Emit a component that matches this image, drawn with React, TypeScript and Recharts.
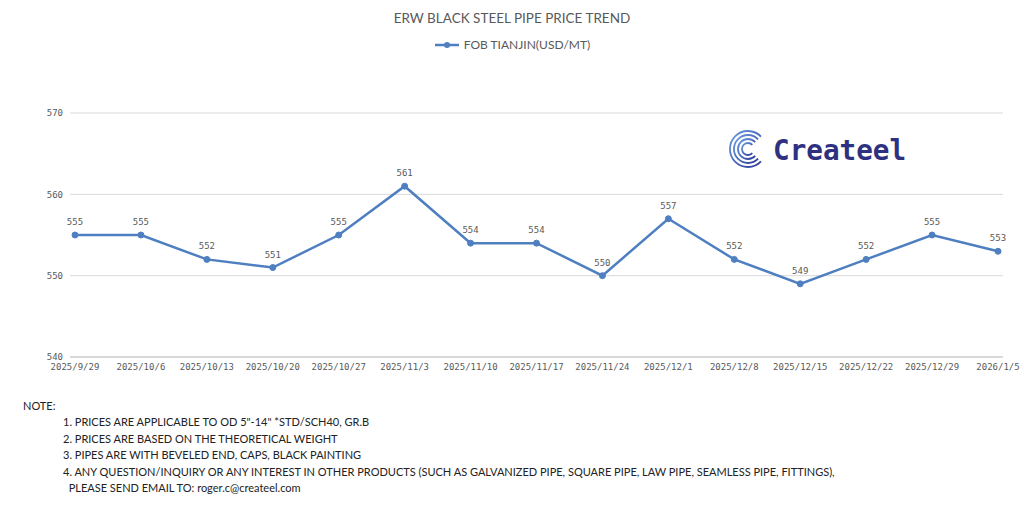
import React from "react";
import { CartesianGrid, LabelList, Line, LineChart, XAxis, YAxis } from "recharts";

const dates = [
  "2025/9/29", "2025/10/6", "2025/10/13", "2025/10/20", "2025/10/27",
  "2025/11/3", "2025/11/10", "2025/11/17", "2025/11/24", "2025/12/1",
  "2025/12/8", "2025/12/15", "2025/12/22", "2025/12/29", "2026/1/5",
];
const prices = [555, 555, 552, 551, 555, 561, 554, 554, 550, 557, 552, 549, 552, 555, 553];
const yTicks = [540, 550, 560, 570];
const seriesName = "FOB TIANJIN(USD/MT)";
const notes = [
  "1. PRICES ARE APPLICABLE TO OD 5\"-14\" *STD/SCH40, GR.B",
  "2. PRICES ARE BASED ON THE THEORETICAL WEIGHT",
  "3. PIPES ARE WITH BEVELED END, CAPS, BLACK PAINTING",
  "4. ANY QUESTION/INQUIRY OR ANY INTEREST IN OTHER PRODUCTS (SUCH AS GALVANIZED PIPE, SQUARE PIPE, LAW PIPE, SEAMLESS PIPE, FITTINGS),",
  "  PLEASE SEND EMAIL TO: roger.c@createel.com",
];

const data = dates.map((date, i) => ({ date, price: prices[i] }));

const blue = "#4e7fc0";
const grey = "#595959";
const textFont = "Lato, 'Open Sans', sans-serif";
const numFont = "'DejaVu Sans Mono', 'Liberation Mono', monospace";

function LegendBox() {
  return (
    <div style={{ position: "absolute", top: 37, left: 0, width: 1024, display: "flex", justifyContent: "center", alignItems: "center", fontFamily: textFont, fontSize: 12, color: grey }}>
      <svg width={26} height={10} style={{ marginRight: 4 }}>
        <line x1={1} y1={5} x2={25} y2={5} stroke={blue} strokeWidth={2.5} />
        <circle cx={13} cy={5} r={3} fill={blue} />
      </svg>
      <span>{seriesName}</span>
    </div>
  );
}

function Logo() {
  return (
    <svg width={190} height={44} style={{ position: "absolute", left: 726, top: 127 }}>
      <defs>
        <linearGradient id="logoGrad" x1="0" y1="0" x2="1" y2="1">
          <stop offset="0%" stopColor="#6a9ee0" />
          <stop offset="100%" stopColor="#2e3a9a" />
        </linearGradient>
      </defs>
      {[18, 14, 10, 6].map((r) => (
        <path
          key={r}
          d={`M ${22 + r * 0.72} ${22 - r * 0.69} A ${r} ${r} 0 1 0 ${22 + r * 0.72} ${22 + r * 0.69}`}
          fill="none"
          stroke="url(#logoGrad)"
          strokeWidth={1.8}
        />
      ))}
      <text x={47} y={33} fontFamily="'DejaVu Sans Mono', monospace" fontWeight="bold" fontSize={28} fill="#2d3180" textLength={133} lengthAdjust="spacingAndGlyphs">
        Createel
      </text>
    </svg>
  );
}

export default function App() {
  return (
    <div style={{ position: "absolute", left: 0, top: 0, width: 1024, height: 506, background: "#fff" }}>
      <div style={{ position: "absolute", top: 10, width: 1024, textAlign: "center", fontFamily: textFont, fontSize: 13.5, color: grey }}>
        ERW BLACK STEEL PIPE PRICE TREND
      </div>
      <LegendBox />
      <LineChart width={1024} height={380} data={data} margin={{ top: 113, right: 21, bottom: 3, left: 0 }}>
        <CartesianGrid horizontal vertical={false} stroke="#d9d9d9" />
        <XAxis
          dataKey="date"
          interval={0}
          padding={{ left: 5, right: 5 }}
          tickLine={false}
          tickSize={0}
          tickMargin={7}
          height={20}
          axisLine={{ stroke: "#d9d9d9", strokeWidth: 2 }}
          tick={{ fill: grey, fontSize: 9, fontFamily: numFont }}
        />
        <YAxis
          domain={[540, 570]}
          ticks={yTicks}
          width={70}
          axisLine={false}
          tickLine={false}
          tickSize={0}
          tickMargin={7}
          tick={{ fill: grey, fontSize: 9, fontFamily: numFont }}
        />
        <Line
          type="linear"
          dataKey="price"
          name={seriesName}
          stroke={blue}
          strokeWidth={2.5}
          dot={{ r: 3, fill: blue, stroke: blue, strokeWidth: 1 }}
          isAnimationActive={false}
        >
          <LabelList dataKey="price" position="top" offset={10} fill={grey} fontSize={9} fontFamily={numFont} />
        </Line>
      </LineChart>
      <Logo />
      <div style={{ position: "absolute", left: 23, top: 398, fontFamily: textFont, fontSize: 11, color: "#222", lineHeight: "16.4px", whiteSpace: "pre" }}>
        <div>NOTE:</div>
        {notes.map((n) => (
          <div key={n} style={{ paddingLeft: 40 }}>{n}</div>
        ))}
      </div>
    </div>
  );
}
